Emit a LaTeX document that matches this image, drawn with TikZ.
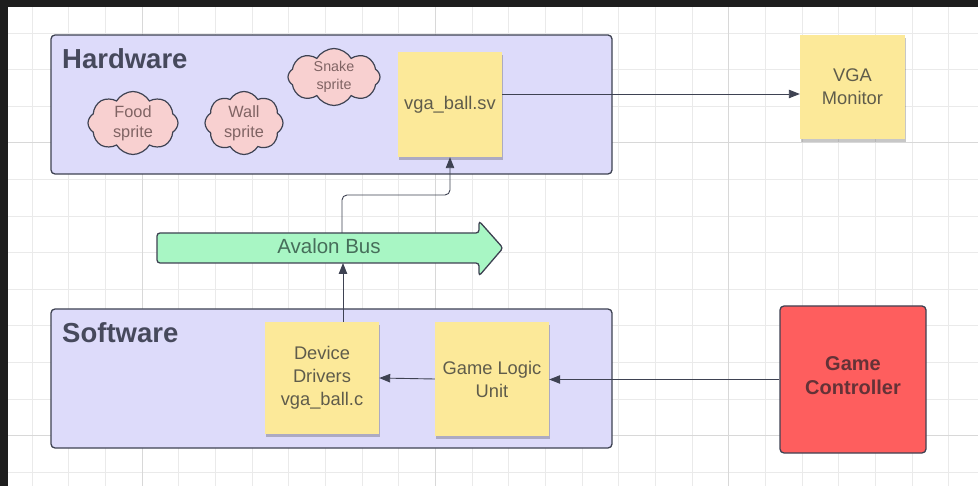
\documentclass[tikz,border=0pt]{standalone}
\usepackage{fontspec}
\setmainfont{Liberation Sans}
\usetikzlibrary{shapes.symbols,arrows.meta,shadows}

\definecolor{lav}{RGB}{221,219,250}
\definecolor{edgec}{RGB}{62,66,82}
\definecolor{sticky}{RGB}{252,233,153}
\definecolor{stickytxt}{RGB}{95,92,75}
\definecolor{pinkfill}{RGB}{248,208,208}
\definecolor{pinktxt}{RGB}{128,100,100}
\definecolor{busgreen}{RGB}{168,246,196}
\definecolor{bustxt}{RGB}{70,110,90}
\definecolor{ctrlred}{RGB}{254,94,94}
\definecolor{ctrltxt}{RGB}{100,50,55}
\definecolor{headtxt}{RGB}{70,73,92}
\definecolor{gridc}{RGB}{234,234,234}
\definecolor{gridmaj}{RGB}{216,216,216}
\definecolor{framec}{RGB}{30,30,30}

\tikzset{
  groupbox/.style={draw=edgec, line width=1.3pt, fill=lav, rounded corners=4pt, inner sep=0pt},
  heading/.style={anchor=base west, inner sep=0pt, text=headtxt, font=\fontsize{27.5}{32}\selectfont\bfseries},
  stickynote/.style={fill=sticky, inner sep=0pt, align=center, text=stickytxt,
    font=\fontsize{18.3}{23}\selectfont,
    drop shadow={shadow xshift=0.5pt, shadow yshift=-3pt, opacity=.22, fill=black}},
  sprite/.style={cloud, cloud puffs=8, cloud puff arc=120, aspect=1.45, draw=edgec,
    line width=1.2pt, fill=pinkfill, inner sep=0pt, align=center, text=pinktxt},
  conn/.style={draw=edgec, line width=0.9pt},
  arr/.style={conn, -{Triangle[length=11pt,width=8.5pt]}},
}

\begin{document}
\begin{tikzpicture}[x=1pt,y=-1pt]
\useasboundingbox (0,0) rectangle (978,486);
\fill[white] (0,0) rectangle (978,486);

% canvas grid
\foreach \k in {0,...,25} {
  \pgfmathsetmacro{\gx}{32+36.67*\k}
  \draw[gridc, line width=0.8pt] (\gx,0) -- (\gx,486);
}
\foreach \k in {0,...,12} {
  \pgfmathsetmacro{\gy}{33+36.6*\k}
  \draw[gridc, line width=0.8pt] (0,\gy) -- (978,\gy);
}
\foreach \k in {3,11,19} {
  \pgfmathsetmacro{\gx}{32+36.67*\k}
  \draw[gridmaj, line width=0.8pt] (\gx,0) -- (\gx,486);
}
\foreach \k in {3,11} {
  \pgfmathsetmacro{\gy}{33+36.6*\k}
  \draw[gridmaj, line width=0.8pt] (0,\gy) -- (978,\gy);
}

% window frame
\fill[framec] (0,0) rectangle (978,7);
\fill[framec] (0,0) rectangle (8,486);

% group containers
\node[groupbox, minimum width=561pt, minimum height=139pt] (hw) at (331.5,104.5) {};
\node[heading] (hwlabel) at (62,69) {Hardware};
\node[groupbox, minimum width=561pt, minimum height=139pt] (sw) at (331.5,378.5) {};
\node[heading] (swlabel) at (62,343) {Software};

% sprites
\node[sprite, minimum width=90pt, minimum height=63pt, font=\fontsize{16.3}{20}\selectfont] (food) at (133,123) {Food\\sprite};
\node[sprite, minimum width=78pt, minimum height=63pt, font=\fontsize{16.3}{20}\selectfont] (wall) at (244,123) {Wall\\sprite};
\node[sprite, minimum width=92pt, minimum height=57pt, font=\fontsize{14.3}{18}\selectfont] (snake) at (334,77) {Snake\\sprite};

% sticky notes
\node[stickynote, minimum width=104pt, minimum height=105pt] (vga) at (450,104.5) {vga\_ball.sv};
\node[stickynote, minimum width=105pt, minimum height=104pt] (mon) at (852.5,87) {VGA\\Monitor};
\node[stickynote, minimum width=114pt, minimum height=112pt] (dd) at (322,378) {Device\\Drivers\\vga\_ball.c};
\node[stickynote, minimum width=114pt, minimum height=114pt] (glu) at (492,379) {Game Logic\\Unit};

% controller
\node[draw=edgec, line width=1.3pt, fill=ctrlred, rounded corners=4pt, inner sep=0pt,
  minimum width=146pt, minimum height=147pt, text=ctrltxt] (gc) at (853,379.5) {};
\node[align=center, text=ctrltxt, font=\fontsize{20}{24}\selectfont\bfseries] (gclabel)
  at ([yshift=4pt]gc.center) {Game\\Controller};

% Avalon bus
\fill[busgreen, draw=edgec, line width=1.3pt, rounded corners=3pt]
  (157,233) -- (479,233) -- (479,221) -- (503,248) -- (479,276) -- (479,263) -- (157,263) -- cycle;
\node[text=bustxt, font=\fontsize{20.5}{24}\selectfont] (bus) at (329,246) {Avalon Bus};
\coordinate (busin) at (343,263);
\coordinate (busout) at (342,233);
\coordinate (bend) at (342,195);

% connectors
\draw[arr] (dd.north -| busin) -- (busin);
\draw[arr, rounded corners=5pt] (busout) -- (bend) -| (vga.south);
\draw[arr] ([yshift=10.5pt]vga.east) -- ([yshift=10.5pt]vga.east -| mon.west);
\draw[arr] (glu.west) -- (dd.east);
\draw[arr] (gc.west) -- (gc.west -| glu.east);
\end{tikzpicture}
\end{document}
